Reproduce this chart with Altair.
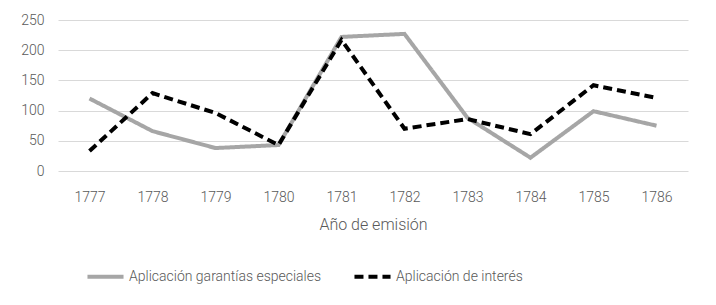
import altair as alt
import pandas as pd

years = ["1777", "1778", "1779", "1780", "1781", "1782", "1783", "1784", "1785", "1786"]
garantias = [120, 66, 38, 43, 222, 227, 88, 22, 99, 75]
interes = [33, 129, 96, 43, 217, 70, 86, 61, 142, 121]
series_names = ["Aplicación garantías especiales", "Aplicación de interés"]

rows = []
for y, g, i in zip(years, garantias, interes):
    rows.append({"year": y, "value": g, "series": series_names[0]})
    rows.append({"year": y, "value": i, "series": series_names[1]})
df = pd.DataFrame(rows)

FONT = "Roboto"

chart = alt.Chart(df).mark_line(strokeWidth=4, strokeCap="butt", strokeJoin="miter").encode(
    x=alt.X("year:N", title="Año de emisión", sort=years,
            scale=alt.Scale(paddingInner=0, paddingOuter=0),
            axis=alt.Axis(labelAngle=0, domain=False, ticks=False, grid=False,
                          labelFontSize=14, labelColor="#595959", labelPadding=19,
                          labelFontWeight=300,
                          titleFontSize=16, titleColor="#595959", titleFontWeight=300,
                          titlePadding=12, labelFont=FONT, titleFont=FONT)),
    y=alt.Y("value:Q", title=None,
            scale=alt.Scale(domain=[0, 250]),
            axis=alt.Axis(values=[0, 50, 100, 150, 200, 250], domain=False, ticks=False,
                          gridColor="#d9d9d9", gridWidth=1,
                          labelFontSize=14, labelColor="#595959", labelPadding=14,
                          labelFontWeight=300, labelFont=FONT)),
    color=alt.Color("series:N", sort=series_names,
                    scale=alt.Scale(domain=series_names, range=["#a6a6a6", "#000000"]),
                    legend=alt.Legend(title=None, orient="none", direction="horizontal",
                                      legendX=27, legendY=236,
                                      symbolType="stroke", symbolSize=1300, symbolStrokeWidth=4,
                                      labelFontSize=14, labelColor="#595959", labelFont=FONT,
                                      labelFontWeight=300, labelLimit=400,
                                      columnPadding=24, labelOffset=3)),
    strokeDash=alt.StrokeDash("series:N", sort=series_names,
                              scale=alt.Scale(domain=series_names, range=[[1, 0], [9, 5]]),
                              legend=None),
).properties(
    width=630, height=151,
    autosize=alt.AutoSizeParams(type="none"),
    padding={"left": 50, "top": 12, "right": 20, "bottom": 120},
).configure_view(stroke=None)

chart.save("out.html", embed_options={"renderer": "svg", "actions": False})
